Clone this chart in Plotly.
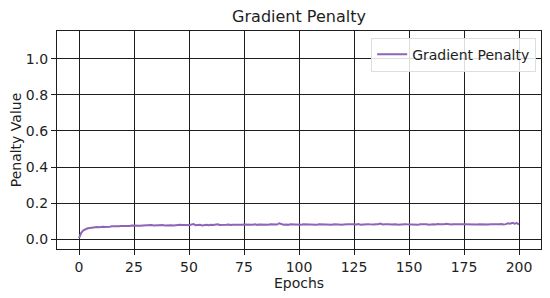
import plotly.graph_objects as go

# Gradient penalty per epoch
epochs = list(range(201))
penalty = [
    0.005, 0.035, 0.048, 0.055, 0.060, 0.062, 0.065, 0.064, 0.067, 0.066, 0.068,
    0.069, 0.067, 0.070, 0.069, 0.071, 0.070, 0.072, 0.071, 0.073, 0.072, 0.071, 0.074, 0.073, 0.075, 0.074,
    0.076, 0.075, 0.074, 0.076, 0.077, 0.075, 0.076, 0.078, 0.076, 0.077, 0.075, 0.077, 0.078, 0.076, 0.077,
    0.079, 0.077, 0.076, 0.078, 0.077, 0.079, 0.078, 0.076, 0.078, 0.077,
    0.079, 0.083, 0.077, 0.078, 0.080, 0.076, 0.078, 0.079, 0.077, 0.080, 0.078, 0.079, 0.082, 0.078, 0.077,
    0.080, 0.079, 0.081, 0.078, 0.080, 0.079, 0.082, 0.080, 0.079, 0.081,
    0.080, 0.079, 0.081, 0.080, 0.082, 0.079, 0.081, 0.080, 0.078, 0.081, 0.080, 0.082, 0.081, 0.079, 0.081,
    0.088, 0.082, 0.080, 0.081, 0.079, 0.082, 0.081, 0.080, 0.082, 0.081,
    0.080, 0.082, 0.081, 0.083, 0.080, 0.082, 0.081, 0.079, 0.082, 0.081, 0.083, 0.080, 0.082, 0.081, 0.080,
    0.082, 0.083, 0.081, 0.080, 0.082, 0.081, 0.083, 0.082, 0.080, 0.082,
    0.081, 0.083, 0.080, 0.082, 0.081, 0.083, 0.082, 0.080, 0.081, 0.083, 0.082, 0.086, 0.081, 0.082, 0.080,
    0.082, 0.081, 0.083, 0.082, 0.080, 0.082, 0.081, 0.083, 0.082, 0.081,
    0.080, 0.082, 0.081, 0.079, 0.082, 0.083, 0.081, 0.082, 0.080, 0.082, 0.083, 0.081, 0.084, 0.082, 0.081,
    0.083, 0.085, 0.082, 0.081, 0.083, 0.082, 0.084, 0.081, 0.082, 0.083,
    0.082, 0.081, 0.083, 0.080, 0.082, 0.081, 0.083, 0.082, 0.080, 0.082, 0.081, 0.083, 0.082, 0.081, 0.083,
    0.082, 0.084, 0.081, 0.083, 0.088, 0.085, 0.090, 0.086, 0.089, 0.082,
]
x_ticks = [0, 25, 50, 75, 100, 125, 150, 175, 200]
y_ticks = [0.0, 0.2, 0.4, 0.6, 0.8, 1.0]

fig = go.Figure()
fig.add_trace(go.Scatter(x=epochs, y=penalty, mode='lines', name='Gradient Penalty',
                         line=dict(color='#8e64b8', width=2)))

axis_style = dict(showgrid=True, gridcolor='#1e1e1e', gridwidth=1.3,
                  showline=True, linecolor='#1e1e1e', linewidth=1.3, mirror=True,
                  ticks='outside', ticklen=5, tickcolor='#1e1e1e', zeroline=False,
                  automargin=False, tickfont=dict(size=14, color='#1e1e1e'))

fig.update_xaxes(range=[-10, 210], tickvals=x_ticks,
                 title=dict(text='Epochs', font=dict(size=14, color='#1e1e1e'), standoff=2),
                 **axis_style)
fig.update_yaxes(range=[-0.055, 1.155], tickvals=y_ticks, tickformat='.1f',
                 title=dict(text='Penalty Value', font=dict(size=14, color='#1e1e1e'), standoff=2),
                 **axis_style)

# page body adds an 8px margin, so the figure is drawn 8px smaller and shifted
fig.update_layout(
    width=542, height=290,
    margin=dict(l=49, r=9, t=23, b=49),
    paper_bgcolor='white', plot_bgcolor='white',
    font=dict(family='DejaVu Sans', color='#1e1e1e'),
    title=dict(text='Gradient Penalty', x=0.5, xref='paper', xanchor='center',
               y=0.97, yanchor='middle', font=dict(size=16, color='#1e1e1e')),
    showlegend=True,
    legend=dict(x=0.99, y=0.97, xanchor='right', yanchor='top',
                bgcolor='rgba(255,255,255,0.85)', bordercolor='#dddddd', borderwidth=1,
                font=dict(size=14, color='#1e1e1e')),
)

fig.write_html("out.html")
